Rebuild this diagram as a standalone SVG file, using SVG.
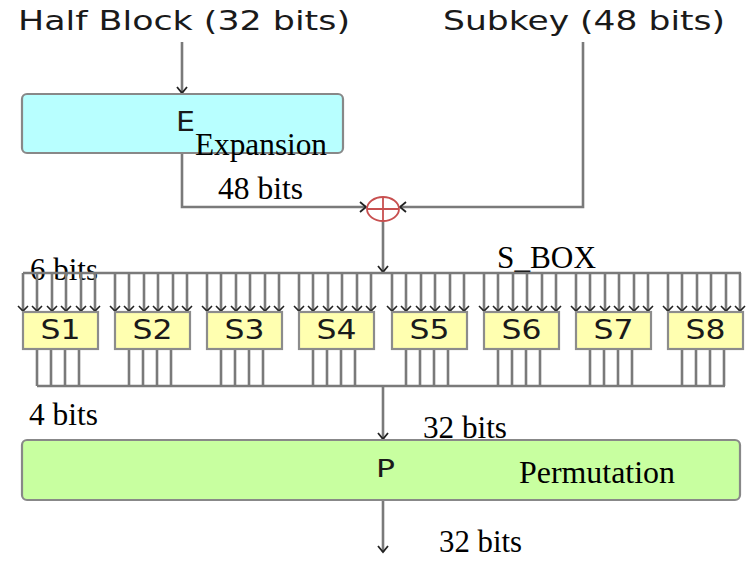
<svg xmlns="http://www.w3.org/2000/svg" width="750" height="562" viewBox="0 0 750 562">
<defs>
<marker id="arr" markerUnits="userSpaceOnUse" markerWidth="12" markerHeight="14" refX="7" refY="7" orient="auto">
<path d="M1,2 L7,7 L1,12" fill="none" stroke="#222" stroke-width="1.8"/>
</marker>
<marker id="arrs" markerUnits="userSpaceOnUse" markerWidth="10" markerHeight="14" refX="6" refY="7" orient="auto">
<path d="M1,2 L6,7 L1,12" fill="none" stroke="#222" stroke-width="1.6"/>
</marker>
</defs>
<style>
.ln{stroke:#7a7a7a;stroke-width:2.6;fill:none}
.sans{font-family:"DejaVu Sans",sans-serif;fill:#1a1a1a}
.box{stroke:#888;stroke-width:2.2}
.sb{fill:#ffffb0;stroke:#8c8c8c;stroke-width:2.2}
.in{stroke:#7a7a7a;stroke-width:2.6;fill:none;marker-end:url(#arrs)}
</style>
<rect width="750" height="562" fill="#fff"/>
<g id="labels" font-family="'Liberation Serif', 'DejaVu Serif', serif" fill="#000">
<text class="sans" x="18" y="30" font-size="27" textLength="332" lengthAdjust="spacingAndGlyphs">Half Block (32 bits)</text>
<text class="sans" x="443" y="30" font-size="27" textLength="282" lengthAdjust="spacingAndGlyphs">Subkey (48 bits)</text>
<text x="218" y="199" font-size="31" textLength="85" lengthAdjust="spacingAndGlyphs">48 bits</text>
<text x="30" y="280" font-size="31" textLength="68" lengthAdjust="spacingAndGlyphs">6 bits</text>
<text x="497" y="268" font-size="31" textLength="99" lengthAdjust="spacingAndGlyphs">S_BOX</text>
<text x="29" y="425" font-size="31" textLength="69" lengthAdjust="spacingAndGlyphs">4 bits</text>
<text x="423" y="438" font-size="31" textLength="84" lengthAdjust="spacingAndGlyphs">32 bits</text>
<text x="439" y="552" font-size="31" textLength="83" lengthAdjust="spacingAndGlyphs">32 bits</text>
</g>
<g id="connectors">
<path class="ln" d="M182,42 V93" marker-end="url(#arr)"/>
<path class="ln" d="M583,42 V207 H400" marker-end="url(#arr)"/>
<path class="ln" d="M182,153 V207 H366" marker-end="url(#arr)"/>
<path class="ln" d="M383,221 V272" marker-end="url(#arr)"/>
<path class="ln" d="M23,273 H741"/>
<path class="ln" d="M37,386 H725"/>
<path class="ln" d="M383,386 V439" marker-end="url(#arr)"/>
<path class="ln" d="M383,501 V552" marker-end="url(#arr)"/>
<g id="sbox-inputs">
<path class="in" d="M23,273V311"/><path class="in" d="M37,273V311"/><path class="in" d="M52,273V311"/><path class="in" d="M66,273V311"/><path class="in" d="M81,273V311"/><path class="in" d="M95,273V311"/>
<path class="in" d="M115,273V311"/><path class="in" d="M129,273V311"/><path class="in" d="M144,273V311"/><path class="in" d="M158,273V311"/><path class="in" d="M173,273V311"/><path class="in" d="M187,273V311"/>
<path class="in" d="M207,273V311"/><path class="in" d="M221,273V311"/><path class="in" d="M236,273V311"/><path class="in" d="M250,273V311"/><path class="in" d="M265,273V311"/><path class="in" d="M279,273V311"/>
<path class="in" d="M299,273V311"/><path class="in" d="M313,273V311"/><path class="in" d="M328,273V311"/><path class="in" d="M342,273V311"/><path class="in" d="M357,273V311"/><path class="in" d="M371,273V311"/>
<path class="in" d="M392,273V311"/><path class="in" d="M406,273V311"/><path class="in" d="M421,273V311"/><path class="in" d="M435,273V311"/><path class="in" d="M450,273V311"/><path class="in" d="M464,273V311"/>
<path class="in" d="M484,273V311"/><path class="in" d="M498,273V311"/><path class="in" d="M513,273V311"/><path class="in" d="M527,273V311"/><path class="in" d="M542,273V311"/><path class="in" d="M556,273V311"/>
<path class="in" d="M576,273V311"/><path class="in" d="M590,273V311"/><path class="in" d="M605,273V311"/><path class="in" d="M619,273V311"/><path class="in" d="M634,273V311"/><path class="in" d="M648,273V311"/>
<path class="in" d="M668,273V311"/><path class="in" d="M682,273V311"/><path class="in" d="M697,273V311"/><path class="in" d="M711,273V311"/><path class="in" d="M726,273V311"/><path class="in" d="M740,273V311"/>
</g>
<g id="sbox-outputs">
<path class="ln" d="M37,349V386 M51,349V386 M65,349V386 M79,349V386"/>
<path class="ln" d="M129,349V386 M143,349V386 M157,349V386 M171,349V386"/>
<path class="ln" d="M221,349V386 M235,349V386 M249,349V386 M263,349V386"/>
<path class="ln" d="M313,349V386 M327,349V386 M341,349V386 M355,349V386"/>
<path class="ln" d="M406,349V386 M420,349V386 M434,349V386 M448,349V386"/>
<path class="ln" d="M498,349V386 M512,349V386 M526,349V386 M540,349V386"/>
<path class="ln" d="M590,349V386 M604,349V386 M618,349V386 M632,349V386"/>
<path class="ln" d="M682,349V386 M696,349V386 M710,349V386 M724,349V386"/>
</g>
</g>
<g id="xor">
<ellipse cx="383" cy="209" rx="16" ry="12" fill="none" stroke="#c85050" stroke-width="1.8"/>
<path d="M367,209 H399 M383,197 V221" stroke="#c85050" stroke-width="1.8"/>
</g>
<g id="E">
<rect class="box" x="22" y="94" width="321" height="59" rx="5" fill="#b8ffff"/>
<text class="sans" x="176" y="131" font-size="26" textLength="19" lengthAdjust="spacingAndGlyphs">E</text>
<text x="195" y="155" font-size="31" textLength="132" lengthAdjust="spacingAndGlyphs" font-family="'Liberation Serif', 'DejaVu Serif', serif">Expansion</text>
</g>
<g id="S1"><rect class="sb" x="23" y="312" width="75" height="37"/><text class="sans" x="60.5" y="339" font-size="27" text-anchor="middle" textLength="40" lengthAdjust="spacingAndGlyphs">S1</text></g>
<g id="S2"><rect class="sb" x="115" y="312" width="75" height="37"/><text class="sans" x="152.5" y="339" font-size="27" text-anchor="middle" textLength="40" lengthAdjust="spacingAndGlyphs">S2</text></g>
<g id="S3"><rect class="sb" x="207" y="312" width="75" height="37"/><text class="sans" x="244.5" y="339" font-size="27" text-anchor="middle" textLength="40" lengthAdjust="spacingAndGlyphs">S3</text></g>
<g id="S4"><rect class="sb" x="299" y="312" width="75" height="37"/><text class="sans" x="336.5" y="339" font-size="27" text-anchor="middle" textLength="40" lengthAdjust="spacingAndGlyphs">S4</text></g>
<g id="S5"><rect class="sb" x="392" y="312" width="75" height="37"/><text class="sans" x="429.5" y="339" font-size="27" text-anchor="middle" textLength="40" lengthAdjust="spacingAndGlyphs">S5</text></g>
<g id="S6"><rect class="sb" x="484" y="312" width="75" height="37"/><text class="sans" x="521.5" y="339" font-size="27" text-anchor="middle" textLength="40" lengthAdjust="spacingAndGlyphs">S6</text></g>
<g id="S7"><rect class="sb" x="576" y="312" width="75" height="37"/><text class="sans" x="613.5" y="339" font-size="27" text-anchor="middle" textLength="40" lengthAdjust="spacingAndGlyphs">S7</text></g>
<g id="S8"><rect class="sb" x="668" y="312" width="75" height="37"/><text class="sans" x="705.5" y="339" font-size="27" text-anchor="middle" textLength="40" lengthAdjust="spacingAndGlyphs">S8</text></g>
<g id="P">
<rect class="box" x="22" y="440" width="718" height="60" rx="5" fill="#c8ffa0"/>
<text class="sans" x="376" y="477" font-size="25" textLength="19" lengthAdjust="spacingAndGlyphs">P</text>
<text x="519" y="483" font-size="32" textLength="156" lengthAdjust="spacingAndGlyphs" font-family="'Liberation Serif', 'DejaVu Serif', serif">Permutation</text>
</g>
</svg>
